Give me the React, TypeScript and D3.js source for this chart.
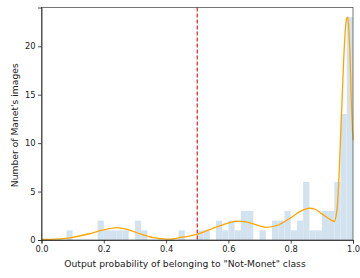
import { useEffect, useRef } from "react";
import * as d3 from "d3";

// histogram: 50 bins of width 0.02 between 0 and 1
const binEdgesStart = d3.range(0, 50).map(i => i * 0.02);
const binCounts = [
    0, 0, 0, 0, 1, 0, 0, 0, 0, 2,
    1, 1, 1, 1, 0, 2, 1, 0, 0, 0,
    0, 0, 1, 0, 0, 1, 1, 0, 2, 1,
    2, 1, 3, 3, 0, 1, 0, 2, 2, 3,
    1, 2, 6, 1, 1, 3, 3, 6, 13, 23,
];
const binWidth = 0.02;

// KDE curve (scaled to counts)
const kdeX = [
    0, 0.05, 0.1, 0.15, 0.2, 0.24, 0.28, 0.32, 0.36, 0.4, 0.42, 0.44, 0.47, 0.5,
    0.55, 0.6, 0.63, 0.66, 0.7, 0.72, 0.76, 0.8, 0.84, 0.86, 0.88, 0.9, 0.93, 0.94,
    0.945, 0.95, 0.955, 0.96, 0.965, 0.97, 0.975, 0.98, 0.983, 0.987, 0.99, 0.994, 1.0,
];
const kdeY = [
    0.05, 0.08, 0.28, 0.62, 1.04, 1.28, 1.05, 0.6, 0.24, 0.1, 0.1, 0.22, 0.38, 0.6,
    1.2, 1.75, 1.95, 1.85, 1.45, 1.3, 1.55, 2.3, 3.1, 3.28, 3.15, 2.7, 2.05, 1.9,
    2.4, 3.6, 6.5, 10.5, 14.5, 18.5, 21.5, 22.9, 23, 21.5, 19.5, 15, 10.3,
];

const xTicks = [0, 0.2, 0.4, 0.6, 0.8, 1.0];
const yTicks = [0, 5, 10, 15, 20];
const threshold = 0.5;

const xLabel = 'Output probability of belonging to "Not-Monet" class';
const yLabel = "Number of Manet's images";

function App() {
    const svgRef = useRef<SVGSVGElement>(null);

    useEffect(() => {
        const svgEl = svgRef.current;
        if (!svgEl) return;
        const width = 360;
        const height = 278;
        const ml = 41.5;
        const mr = 7;
        const mt = 7.5;
        const mb = 38;
        const innerWidth = width - ml - mr;
        const innerHeight = height - mt - mb;

        d3.select(svgEl).selectAll("*").remove();
        const svg = d3.select(svgEl);
        const g = svg.append("g").attr("transform", `translate(${ml},${mt})`);

        const xScale = d3.scaleLinear().domain([0, 1]).range([0, innerWidth]);
        const yScale = d3.scaleLinear().domain([0, 24]).range([innerHeight, 0]);

        // bars
        g.append("g")
            .selectAll("rect")
            .data(binCounts.map((c, i) => ({ x0: binEdgesStart[i], c })))
            .join("rect")
            .attr("x", d => xScale(d.x0))
            .attr("width", xScale(binWidth) - xScale(0))
            .attr("y", d => yScale(d.c))
            .attr("height", d => yScale(0) - yScale(d.c))
            .attr("fill", "#d2e3ef");

        // threshold
        g.append("line")
            .attr("x1", xScale(threshold))
            .attr("x2", xScale(threshold))
            .attr("y1", 0)
            .attr("y2", innerHeight)
            .attr("stroke", "#e02020")
            .attr("stroke-width", 1.2)
            .attr("stroke-dasharray", "4,2");

        // kde
        const line = d3.line<number>()
            .x((_, i) => xScale(kdeX[i]))
            .y(d => yScale(d))
            .curve(d3.curveMonotoneX);
        g.append("path")
            .datum(kdeY)
            .attr("fill", "none")
            .attr("stroke", "#ffa500")
            .attr("stroke-width", 1.3)
            .attr("d", line);

        // frame
        g.append("rect")
            .attr("x", 0)
            .attr("y", 0)
            .attr("width", innerWidth)
            .attr("height", innerHeight)
            .attr("fill", "none")
            .attr("stroke", "#555")
            .attr("stroke-width", 0.8);

        // axes
        const xAxis = g.append("g")
            .attr("transform", `translate(0,${innerHeight})`)
            .call(d3.axisBottom(xScale).tickValues(xTicks).tickFormat(d3.format(".1f")).tickSize(3.5).tickPadding(2.5));
        const yAxis = g.append("g")
            .call(d3.axisLeft(yScale).tickValues(yTicks).tickFormat(d3.format("d")).tickSize(3.5).tickPadding(2.5));
        [xAxis, yAxis].forEach(ax => {
            ax.select(".domain").attr("stroke", "#222").attr("stroke-width", 0.8);
            ax.selectAll(".tick line").attr("stroke", "#222").attr("stroke-width", 0.8);
            ax.selectAll(".tick text")
                .attr("font-family", "DejaVu Sans")
                .attr("font-size", "8.3px")
                .attr("fill", "#222");
        });

        // x label sits a little left of the axes centre in the original
        svg.append("text")
            .attr("x", 185)
            .attr("y", 267)
            .attr("text-anchor", "middle")
            .attr("font-family", "DejaVu Sans")
            .attr("font-size", "9.2px")
            .attr("fill", "#222")
            .text(xLabel);

        svg.append("text")
            .attr("transform", `translate(17.5,${mt + innerHeight / 2 + 1.5}) rotate(-90)`)
            .attr("text-anchor", "middle")
            .attr("font-family", "DejaVu Sans")
            .attr("font-size", "9.2px")
            .attr("fill", "#222")
            .text(yLabel);
    }, []);

    return (
        <div style={{ position: "absolute", left: 0, top: 0 }}>
            <svg ref={svgRef} width={360} height={278} style={{ display: "block" }} />
        </div>
    );
}

export default App;
